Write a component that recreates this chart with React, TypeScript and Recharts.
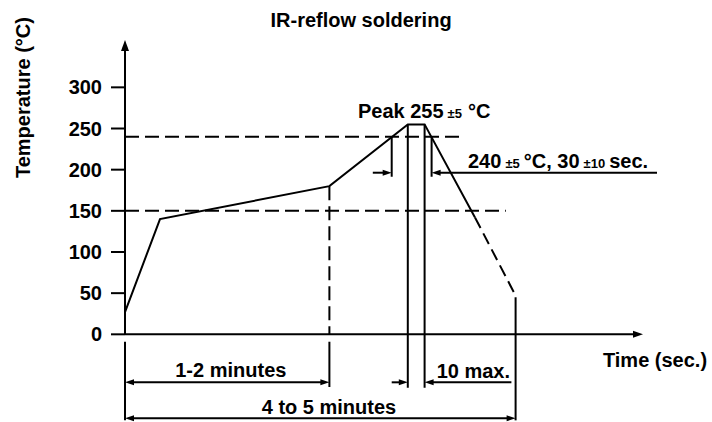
import React from 'react';
import { ComposedChart, Line, XAxis, YAxis, ReferenceLine, ReferenceDot } from 'recharts';

// ---- data (time in seconds, temperature in °C) ----
const profileTimes = [0, 25, 146, 202, 214, 250];
const profileTemps = [27, 140, 180, 255, 255, 142];
const coolingTimes = [250, 279];
const coolingTemps = [142, 47];
const temperatureTicks = [0, 50, 100, 150, 200, 250, 300];
const thresholdTemps = [240, 150];
const thresholdEndTimes = [240, 272];
const above240Times = [190.5, 219];
const peakTimes = [202, 214];
const preheatEndTime = 146;
const profileEndTime = 279;
const titleText = 'IR-reflow soldering';
const yLabelText = 'Temperature (°C)';
const xLabelText = 'Time (sec.)';
const dimTexts = ['1-2 minutes', '10 max.', '4 to 5 minutes'];

const solidData = profileTimes.map((t, i) => ({ t, temp: profileTemps[i] }));
const dashData = coolingTimes.map((t, i) => ({ t, temp: coolingTemps[i] }));

const FONT = '"Liberation Sans", Arial, Helvetica, sans-serif';
const BLACK = '#000';

// layout constants (in data units)
const X_MAX = 400;
const Y_MIN = -106.5;
const Y_MAX = 357.5;
const ROW1 = -58.3;
const ROW2 = -102;

type Dir = 'up' | 'right' | 'left';
const arrowShape = (dir: Dir, len: number, half: number) => (p: any) => {
  const { cx, cy } = p;
  let pts = '';
  if (dir === 'right') pts = `${cx},${cy} ${cx - len},${cy - half} ${cx - len},${cy + half}`;
  if (dir === 'left') pts = `${cx},${cy} ${cx + len},${cy - half} ${cx + len},${cy + half}`;
  if (dir === 'up') pts = `${cx},${cy} ${cx - half},${cy + len} ${cx + half},${cy + len}`;
  return <polygon points={pts} fill={BLACK} />;
};

const textStyle = {
  fontFamily: FONT,
  fontSize: 20,
  fontWeight: 'bold' as const,
  fill: BLACK,
};

const textShape = (content: React.ReactNode, anchor: 'start' | 'middle' | 'end', rotate = 0) => (p: any) => (
  <text
    x={p.cx}
    y={p.cy}
    textAnchor={anchor}
    transform={rotate ? `rotate(${rotate}, ${p.cx}, ${p.cy})` : undefined}
    {...textStyle}
  >
    {content}
  </text>
);

const seg = (x1: number, y1: number, x2: number, y2: number, key: string, dashed = false) => (
  <ReferenceLine
    key={key}
    segment={[{ x: x1, y: y1 }, { x: x2, y: y2 }]}
    stroke={BLACK}
    strokeWidth={2}
    strokeDasharray={dashed ? '14 6' : undefined}
    ifOverflow="visible"
  />
);

const dot = (x: number, y: number, shape: any, key: string) => (
  <ReferenceDot key={key} x={x} y={y} r={0} shape={shape} ifOverflow="visible" />
);

export default function App() {
  const [t240a, t240b] = above240Times;
  const [tp1, tp2] = peakTimes;
  const level240 = thresholdTemps[0];
  const winLevel = 196.3;
  return (
    <div style={{ position: 'absolute', left: 0, top: 0, width: 712, height: 422, background: '#fff' }}>
      <ComposedChart width={712} height={422} margin={{ top: 40, right: 27, bottom: 0, left: 0 }}>
        <XAxis dataKey="t" type="number" domain={[0, X_MAX]} allowDataOverflow hide />
        <YAxis
          type="number"
          domain={[Y_MIN, Y_MAX]}
          allowDataOverflow
          ticks={temperatureTicks}
          width={125}
          axisLine={false}
          tickLine={{ stroke: BLACK, strokeWidth: 2 }}
          tickSize={14}
          tickMargin={9}
          tick={{ ...textStyle }}
          interval={0}
        />

        {/* axes */}
        {seg(0, 0, 0, 350, 'yaxis')}
        {dot(0, Y_MAX, arrowShape('up', 11, 4), 'yarrow')}
        {seg(0, 0, 364, 0, 'xaxis')}
        {dot(370, 0, arrowShape('right', 10, 3.5), 'xarrow')}

        {/* threshold dashed lines */}
        {thresholdTemps.map((v, i) => seg(0, v, thresholdEndTimes[i], v, `thr${i}`, true))}

        {/* preheat end */}
        {seg(preheatEndTime, profileTemps[2], preheatEndTime, 0, 'pre-d', true)}
        {seg(preheatEndTime, -9, preheatEndTime, -64, 'pre-s')}

        {/* peak window verticals */}
        {peakTimes.map((t, i) => seg(t, profileTemps[3], t, -65, `pk${i}`))}

        {/* left & right extension lines */}
        {seg(0, -9, 0, -104.5, 'left-ext')}
        {seg(profileEndTime, coolingTemps[1] - 2, profileEndTime, -104.5, 'right-ext')}

        {/* 240 window */}
        {seg(t240a, level240, t240a, 191.4, 'w1')}
        {seg(t240b, level240, t240b, 191.4, 'w2')}
        {seg(177, winLevel, t240a - 4, winLevel, 'w3')}
        {dot(t240a, winLevel, arrowShape('right', 9, 3), 'wa1')}
        {seg(t240b + 4, winLevel, 380, winLevel, 'w4')}
        {dot(t240b, winLevel, arrowShape('left', 9, 3), 'wa2')}

        {/* 1-2 minutes */}
        {seg(4, ROW1, preheatEndTime - 4, ROW1, 'r1')}
        {dot(0, ROW1, arrowShape('left', 9, 3), 'r1a')}
        {dot(preheatEndTime, ROW1, arrowShape('right', 9, 3), 'r1b')}

        {/* 10 max */}
        {seg(t240a, ROW1, tp1 - 4, ROW1, 'm1')}
        {dot(tp1, ROW1, arrowShape('right', 9, 3), 'm1a')}
        {seg(tp2 + 4, ROW1, 276, ROW1, 'm2')}
        {dot(tp2, ROW1, arrowShape('left', 9, 3), 'm2a')}

        {/* 4 to 5 minutes */}
        {seg(4, ROW2, profileEndTime - 4, ROW2, 'r2')}
        {dot(0, ROW2, arrowShape('left', 9, 3), 'r2a')}
        {dot(profileEndTime, ROW2, arrowShape('right', 9, 3), 'r2b')}

        {/* profile */}
        <Line data={solidData} dataKey="temp" type="linear" stroke={BLACK} strokeWidth={2} dot={false} activeDot={false} isAnimationActive={false} />
        <Line data={dashData} dataKey="temp" type="linear" stroke={BLACK} strokeWidth={2} strokeDasharray="12 6" dot={false} activeDot={false} isAnimationActive={false} />

        {/* texts */}
        {dot(168.6, 373.2, textShape(titleText, 'middle'), 'title')}
        {dot(-67.9, 189.8, textShape(yLabelText, 'start', -90), 'ylabel')}
        {dot(341.4, -39.7, textShape(xLabelText, 'start'), 'xlabel')}
        {dot(166.4, 262.7, textShape(
          <>
            <tspan>Peak 255</tspan>
            <tspan fontSize={13} dx={4}>±5</tspan>
            <tspan dx={6}>°C</tspan>
          </>, 'start'), 'peak')}
        {dot(245, 201.6, textShape(
          <>
            <tspan>240</tspan>
            <tspan fontSize={13} dx={4}>±5</tspan>
            <tspan dx={4}>°C, 30</tspan>
            <tspan fontSize={13} dx={4}>±10</tspan>
            <tspan dx={4}>sec.</tspan>
          </>, 'start'), 'win')}
        {dot(75.6, -51.9, textShape(dimTexts[0], 'middle'), 'd1')}
        {dot(222.6, -53, textShape(dimTexts[1], 'start'), 'd2')}
        {dot(145.7, -97.2, textShape(dimTexts[2], 'middle'), 'd3')}
      </ComposedChart>
    </div>
  );
}
